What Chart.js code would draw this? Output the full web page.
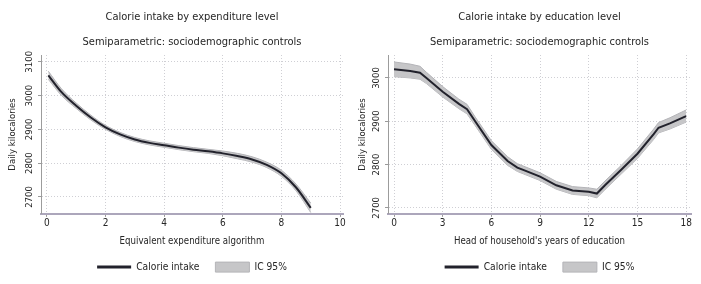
<!DOCTYPE html>
<html>
<head>
<meta charset="utf-8">
<script src="https://cdn.jsdelivr.net/npm/chart.js@4.4.1/dist/chart.umd.min.js"></script>
<style>
  html, body { margin: 0; padding: 0; background: #ffffff; }
  #wrap { position: relative; width: 701px; height: 284px; }
  .panel { position: absolute; top: 0; height: 284px; }
  #p1 { left: 0; width: 350px; }
  #p2 { left: 350px; width: 351px; }
</style>
</head>
<body>
<div id="wrap">
  <div class="panel" id="p1"><canvas id="c1" width="350" height="284"></canvas></div>
  <div class="panel" id="p2"><canvas id="c2" width="351" height="284"></canvas></div>
</div>
<script>
// ---------- Data: panel 1 (expenditure) ----------
const expTitle = ['Calorie intake by expenditure level', 'Semiparametric: sociodemographic controls'];
const expXLabel = 'Equivalent expenditure algorithm';
const expX  = [0.05, 0.5, 1, 1.5, 2, 2.5, 3, 3.5, 4, 4.5, 5, 5.5, 6, 6.5, 7, 7.5, 8, 8.5, 9];
const expY  = [3060, 3010, 2970, 2935, 2906, 2885, 2870, 2860, 2853, 2846, 2840, 2835, 2829, 2821, 2811, 2795, 2770, 2728, 2668];
const expHi = [3072, 3020, 2978, 2942, 2912, 2891, 2876, 2866, 2859, 2852, 2846, 2841, 2836, 2829, 2819, 2803, 2779, 2738, 2682];
const expLo = [3048, 3000, 2962, 2928, 2900, 2879, 2864, 2854, 2847, 2840, 2834, 2829, 2822, 2813, 2803, 2787, 2761, 2718, 2654];
const expXTicks = [0, 2, 4, 6, 8, 10];
const expYTicks = [2700, 2800, 2900, 3000, 3100];

// ---------- Data: panel 2 (education) ----------
const eduTitle = ['Calorie intake by education level', 'Semiparametric: sociodemographic controls'];
const eduXLabel = "Head of household's years of education";
const eduX  = [0, 1, 1.6, 2, 3, 4, 4.5, 5, 6, 7, 7.6, 8, 9, 10, 11, 12, 12.5, 13, 14, 15, 16, 16.3, 17, 18];
const eduY  = [3020, 3016, 3012, 3000, 2968, 2940, 2928, 2900, 2845, 2808, 2793, 2787, 2772, 2752, 2740, 2737, 2733, 2752, 2788, 2825, 2870, 2885, 2895, 2912];
const eduHi = [3037, 3032, 3027, 3013, 2980, 2951, 2939, 2910, 2855, 2818, 2802, 2796, 2781, 2761, 2749, 2746, 2743, 2762, 2798, 2836, 2882, 2897, 2908, 2926];
const eduLo = [3003, 3000, 2997, 2987, 2956, 2929, 2917, 2890, 2835, 2798, 2784, 2778, 2763, 2743, 2731, 2728, 2723, 2742, 2778, 2814, 2858, 2873, 2882, 2898];
const eduXTicks = [0, 3, 6, 9, 12, 15, 18];
const eduYTicks = [2700, 2800, 2900, 3000];

const yLabel = 'Daily kilocalories';
const legendLabels = ['Calorie intake', 'IC 95%'];

// ---------- Style ----------
const FONT = "'Liberation Sans Narrow', 'DejaVu Sans Condensed', 'Roboto', sans-serif";
const TEXT = '#262626';
const LINE = '#22222c';
const BAND = '#c6c6c8';
const BAND_EDGE = '#b4b4b8';
const GRID = '#cfcfd4';

function pts(xs, ys) { return xs.map((x, i) => ({ x: x, y: ys[i] })); }

function makeChart(id, cfg) {
  const mode = cfg.tension ? 'monotone' : 'default';
  return new Chart(document.getElementById(id), {
    type: 'line',
    data: {
      datasets: [
        { label: legendLabels[0], data: pts(cfg.x, cfg.y), borderColor: LINE, borderWidth: 2,
          pointRadius: 0, fill: false, tension: cfg.tension, cubicInterpolationMode: mode },
        { label: legendLabels[1], data: pts(cfg.x, cfg.hi), borderColor: BAND_EDGE, borderWidth: 1,
          backgroundColor: BAND, pointRadius: 0, fill: '+1', tension: cfg.tension, cubicInterpolationMode: mode },
        { label: 'lo', data: pts(cfg.x, cfg.lo), borderColor: BAND_EDGE, borderWidth: 1,
          pointRadius: 0, fill: false, tension: cfg.tension, cubicInterpolationMode: mode }
      ]
    },
    options: {
      responsive: false,
      animation: false,
      events: [],
      layout: { padding: { left: 0, right: cfg.padRight, top: 0, bottom: 1.8 } },
      plugins: {
        tooltip: { enabled: false },
        title: {
          display: true, text: cfg.title, fullSize: false, color: TEXT,
          font: { family: FONT, size: 11, weight: 'normal', lineHeight: '25px' },
          padding: { top: 5, bottom: 0 }
        },
        legend: {
          display: true, position: 'bottom', fullSize: false,
          labels: {
            usePointStyle: true, pointStyleWidth: 34, boxHeight: 10, padding: 16,
            color: TEXT, font: { family: FONT, size: 10.2 },
            generateLabels: () => [
              { text: legendLabels[0], pointStyle: 'line', strokeStyle: LINE, fillStyle: LINE,
                lineWidth: 3, hidden: false, datasetIndex: 0, fontColor: TEXT },
              { text: legendLabels[1], pointStyle: 'rect', strokeStyle: BAND_EDGE, fillStyle: BAND,
                lineWidth: 1, hidden: false, datasetIndex: 1, fontColor: TEXT }
            ]
          }
        }
      },
      scales: {
        x: {
          type: 'linear', min: cfg.xMin, max: cfg.xMax,
          afterBuildTicks: s => { s.ticks = cfg.xTicks.map(v => ({ value: v })); },
          ticks: { autoSkip: false, padding: 1, color: TEXT, font: { family: FONT, size: 10 }, callback: v => String(v) },
          grid: { color: GRID, lineWidth: 1, drawTicks: true, tickLength: 3, tickColor: '#9a9a9a', tickBorderDash: [] },
          border: { display: true, color: '#aca6bb', width: 2, dash: [1, 2] },
          title: { display: true, text: cfg.xLabel, color: TEXT, font: { family: FONT, size: 9.6 }, padding: { top: 5, bottom: -1.4 } }
        },
        y: {
          type: 'linear', min: cfg.yMin, max: cfg.yMax,
          afterBuildTicks: s => { s.ticks = cfg.yTicks.map(v => ({ value: v })); },
          afterFit: s => { s.width = cfg.yWidth; },
          ticks: { autoSkip: false, minRotation: 90, maxRotation: 90, crossAlign: 'center', padding: -2,
                   color: TEXT, font: { family: FONT, size: 9.5 }, callback: v => String(v) },
          grid: { color: GRID, lineWidth: 1, drawTicks: true, tickLength: 3, tickColor: '#9a9a9a', tickBorderDash: [] },
          border: { display: true, color: '#9c9c9c', width: 1, dash: [1, 2] },
          title: { display: true, text: yLabel, color: TEXT, font: { family: FONT, size: 9.5 }, padding: { top: 7, bottom: 0 } }
        }
      }
    }
  });
}

makeChart('c1', {
  title: expTitle, xLabel: expXLabel, x: expX, y: expY, hi: expHi, lo: expLo,
  xTicks: expXTicks, yTicks: expYTicks, xMin: -0.2, xMax: 10.1, yMin: 2650, yMax: 3120,
  yWidth: 41, padRight: 7, tension: 0.4
});
makeChart('c2', {
  title: eduTitle, xLabel: eduXLabel, x: eduX, y: eduY, hi: eduHi, lo: eduLo,
  xTicks: eduXTicks, yTicks: eduYTicks, xMin: -0.37, xMax: 18.3, yMin: 2686, yMax: 3053,
  yWidth: 38, padRight: 10, tension: 0
});
</script>
</body>
</html>
